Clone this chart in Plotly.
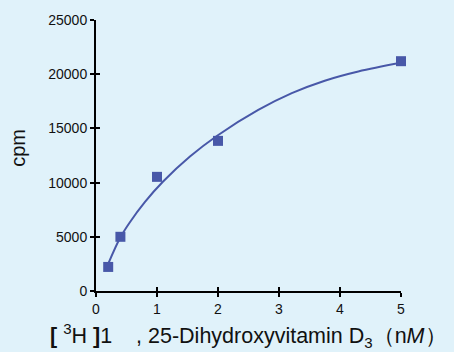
import plotly.graph_objects as go

# measured points
conc = [0.2, 0.4, 1.0, 2.0, 5.0]
cpm = [2220, 5000, 10530, 13850, 21200]

# fitted curve
curve_x = [0.2, 0.4, 0.55, 0.8, 1.1, 1.54, 1.98, 2.66, 3.21, 3.75, 4.30, 5.0]
curve_y = [2500, 4950, 6300, 8200, 10100, 12400, 14300, 16700, 18250, 19400, 20250, 21050]

x_ticks = [0, 1, 2, 3, 4, 5]
y_ticks = [0, 5000, 10000, 15000, 20000, 25000]

x_title = "<b>[</b> <sup>3</sup>H <b>]</b>1    , 25-Dihydroxyvitamin D<sub>3</sub>（n<i>M</i>）"
y_title = "cpm"

BG = "#E0F2FA"
BLUE = "#4858A8"
FONT = "Liberation Sans, Arial, sans-serif"

fig = go.Figure()
fig.add_trace(go.Scatter(x=curve_x, y=curve_y, mode="lines",
                         line=dict(color=BLUE, width=2, shape="spline", smoothing=1.0),
                         hoverinfo="skip", cliponaxis=False))
fig.add_trace(go.Scatter(x=conc, y=cpm, mode="markers",
                         marker=dict(symbol="square", size=10, color=BLUE),
                         cliponaxis=False))
# invisible trace on overlay axes so they render
fig.add_trace(go.Scatter(x=[0], y=[0], xaxis="x2", yaxis="y2", mode="markers",
                         marker=dict(opacity=0), hoverinfo="skip"))

axis_common = dict(showgrid=False, zeroline=False, showline=True, linecolor="black",
                   linewidth=2, ticks="outside", ticklen=4, tickwidth=2, tickcolor="black",
                   automargin=False,
                   tickfont=dict(family=FONT, size=14, color="#111"))

fig.update_layout(
    width=454, height=352,
    margin=dict(l=96, r=53, t=20, b=61),
    paper_bgcolor=BG, plot_bgcolor=BG,
    showlegend=False,
    font=dict(family=FONT, color="#111"),
    xaxis=dict(range=[0, 5], tickvals=x_ticks, ticktext=[str(v) for v in x_ticks], **axis_common),
    yaxis=dict(range=[0, 25000], tickvals=y_ticks, ticktext=[str(v) for v in y_ticks], **axis_common),
    xaxis2=dict(overlaying="x", range=[0, 5], tickvals=x_ticks, showticklabels=False,
                ticks="inside", ticklen=4, tickwidth=2, tickcolor="black", automargin=False,
                showgrid=False, zeroline=False, showline=False, side="bottom", anchor="y2"),
    yaxis2=dict(overlaying="y", range=[0, 25000], tickvals=y_ticks, showticklabels=False,
                ticks="inside", ticklen=4, tickwidth=2, tickcolor="black", automargin=False,
                showgrid=False, zeroline=False, showline=False, side="left", anchor="x2"),
    annotations=[
        dict(text=x_title, xref="paper", yref="paper", x=0.5, y=-0.163,
             xanchor="center", yanchor="middle", showarrow=False,
             font=dict(family=FONT, size=21.5, color="#111")),
        dict(text=y_title, xref="paper", yref="paper", x=-0.256, y=0.528,
             xanchor="center", yanchor="middle", showarrow=False, textangle=-90,
             font=dict(family=FONT, size=20, color="#111")),
    ],
)

fig.write_html("out.html")
